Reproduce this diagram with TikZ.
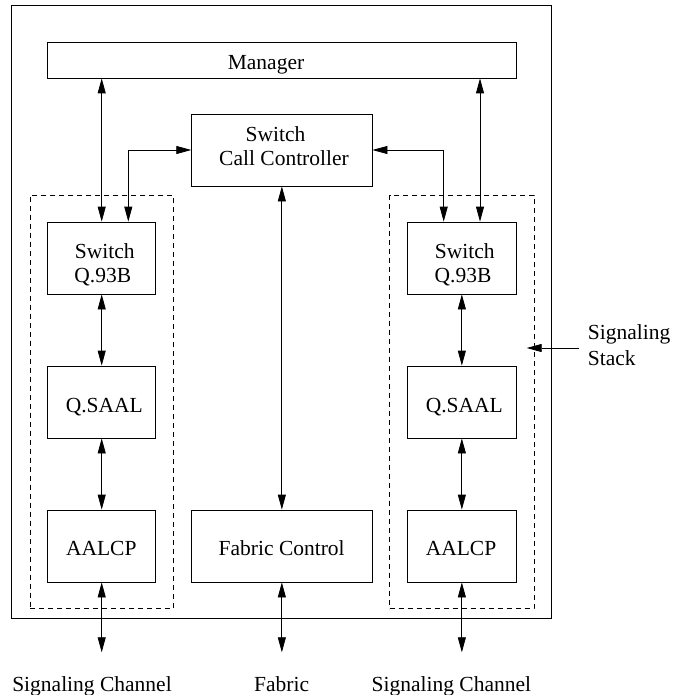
\documentclass[tikz,border=0pt]{standalone}
\usepackage{fontspec}
\setmainfont{Liberation Serif}
\usetikzlibrary{arrows.meta}
\begin{document}
\begin{tikzpicture}[x=1pt,y=-1pt,
  box/.style={draw, line width=0.8pt, inner sep=0pt, minimum height=72pt},
  grp/.style={draw, line width=0.8pt, dash pattern=on 5pt off 4pt, inner sep=0pt},
  lbl/.style={anchor=base, inner sep=0pt, font=\fontsize{21.5}{24}\selectfont},
  link/.style={line width=0.8pt, {Triangle[length=15pt,width=8pt]}-{Triangle[length=15pt,width=8pt]}},
  tip/.style={line width=0.8pt, -{Triangle[length=15pt,width=8pt]}}]
\useasboundingbox (0,0) rectangle (672,695);

% frames
\node[draw, line width=0.8pt, inner sep=0pt, minimum width=540pt, minimum height=612.3pt] (outer) at (281.7,311.85) {};
\node[grp, minimum width=143.3pt, minimum height=413.7pt] (lgrp) at (101.65,401.85) {};
\node[grp, minimum width=144.3pt, minimum height=413.7pt] (rgrp) at (461.85,401.85) {};

% boxes
\node[box, minimum width=468.3pt, minimum height=36pt] (mgr) at (281.85,60) {};
\node[box, minimum width=180.3pt] (scc) at (281.85,150) {};
\node[box, minimum width=180.3pt] (fab) at (281.85,546) {};
\node[box, minimum width=108pt] (lsw) at (101.7,258) {};
\node[box, minimum width=108pt] (lqs) at (101.7,402) {};
\node[box, minimum width=108pt] (lal) at (101.7,546) {};
\node[box, minimum width=108.3pt] (rsw) at (461.85,258) {};
\node[box, minimum width=108.3pt] (rqs) at (461.85,402) {};
\node[box, minimum width=108.3pt] (ral) at (461.85,546) {};

% texts
\node[lbl] (mgrT) at (266,70) {Manager};
\node[lbl] (sccT1) at (275.5,141.7) {Switch};
\node[lbl] (sccT2) at (284,165) {Call Controller};
\node[lbl] (lswT1) at (104.7,258) {Switch};
\node[lbl] (lswT2) at (102.8,282.7) {Q.93B};
\node[lbl] (lqsT) at (104.3,412) {Q.SAAL};
\node[lbl] (lalT) at (101.3,555.7) {AALCP};
\node[lbl] (fabT) at (281.7,555.7) {Fabric Control};
\node[lbl] (rswT1) at (464.7,258) {Switch};
\node[lbl] (rswT2) at (463,282.7) {Q.93B};
\node[lbl] (rqsT) at (464.3,412) {Q.SAAL};
\node[lbl] (ralT) at (461,555.7) {AALCP};
\node[lbl] (lchan) at (92,691) {Signaling Channel};
\node[lbl] (fabric) at (281.7,691) {Fabric};
\node[lbl] (rchan) at (451.4,691) {Signaling Channel};
\node[lbl, anchor=base west] (stk1) at (587.7,339.3) {Signaling};
\node[lbl, anchor=base west] (stk2) at (587.7,365) {Stack};

% coordinates
\coordinate (lsc) at ([xshift=26.6pt]lsw.north);
\coordinate (rsc) at ([xshift=-18.15pt]rsw.north);
\coordinate (rmg) at ([xshift=18.15pt]rsw.north);
\coordinate (lend) at (101.7,652.3);
\coordinate (fend) at (281.85,652.3);
\coordinate (rend) at (461.85,652.3);
\coordinate (stkfrom) at (578.7,348);
\coordinate (stkto) at (526.7,348);

% connectors
\draw[link] (mgr.south -| lsw.north) -- (lsw.north);
\draw[link] (scc.west) -| (lsc);
\draw[link] (scc.east) -| (rsc);
\draw[link] (mgr.south -| rmg) -- (rmg);
\draw[link] (scc.south) -- (fab.north);
\draw[link] (lsw.south) -- (lqs.north);
\draw[link] (lqs.south) -- (lal.north);
\draw[link] (rsw.south) -- (rqs.north);
\draw[link] (rqs.south) -- (ral.north);
\draw[link] (lal.south) -- (lend);
\draw[link] (fab.south) -- (fend);
\draw[link] (ral.south) -- (rend);
\draw[tip] (stkfrom) -- (stkto);
\end{tikzpicture}
\end{document}
